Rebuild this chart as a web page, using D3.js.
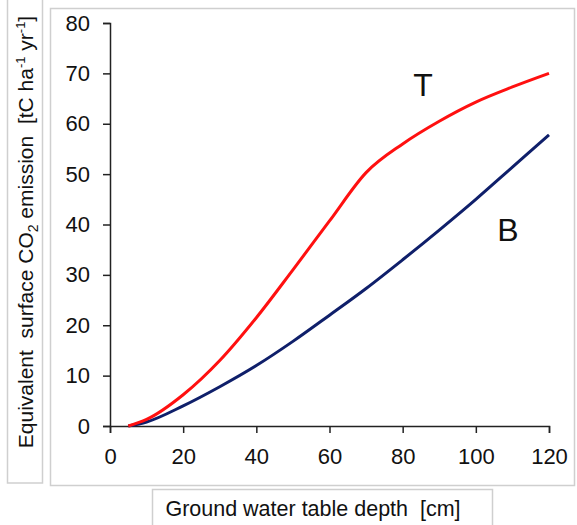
<!DOCTYPE html>
<html>
<head>
<meta charset="utf-8">
<script src="https://cdn.jsdelivr.net/npm/d3@7"></script>
<style>
  html, body { margin: 0; padding: 0; background: #fff; }
  svg { display: block; font-family: "Liberation Sans", Arial, sans-serif; }
</style>
</head>
<body>
<svg id="chart" width="577" height="525"></svg>
<script>
// Ground water table depth [cm]
const depth = [5, 10, 20, 30, 40, 50, 60, 70, 80, 90, 100, 110, 120];
// Equivalent surface CO2 emission [tC ha-1 yr-1]
const seriesT = [0, 1.3, 6.2, 13, 21.5, 31, 40.7, 50.3, 56, 60.5, 64.3, 67.3, 70];
const seriesB = [0, 0.8, 4, 7.8, 12, 16.8, 22, 27.3, 33, 38.9, 45, 51.4, 57.8];
const xTicks = [0, 20, 40, 60, 80, 100, 120];
const yTicks = [0, 10, 20, 30, 40, 50, 60, 70, 80];

const svg = d3.select("#chart");

const x = d3.scaleLinear().domain([0, 120]).range([110, 549]);
const y = d3.scaleLinear().domain([0, 80]).range([426, 23]);

// framed panels
svg.append("rect").attr("x", 50.5).attr("y", 8.5).attr("width", 524).attr("height", 477)
  .attr("fill", "#fff").attr("stroke", "#cfcfcf").attr("stroke-width", 1.5);
svg.append("rect").attr("x", 7.5).attr("y", -5).attr("width", 35).attr("height", 488)
  .attr("fill", "#fff").attr("stroke", "#cfcfcf").attr("stroke-width", 1.5);
svg.append("rect").attr("x", 152.5).attr("y", 489.5).attr("width", 340).attr("height", 45)
  .attr("fill", "#fff").attr("stroke", "#cfcfcf").attr("stroke-width", 1.5);

// axes
const yAxis = svg.append("g").attr("transform", `translate(${x(0)},0)`)
  .call(d3.axisLeft(y).tickValues(yTicks).tickSize(7).tickPadding(13).tickFormat(d3.format("d")));
const xAxis = svg.append("g").attr("transform", `translate(0,${y(0)})`)
  .call(d3.axisBottom(x).tickValues(xTicks).tickSize(7).tickPadding(15).tickFormat(d3.format("d")));

[xAxis, yAxis].forEach(g => {
  g.selectAll("path, line").attr("stroke", "#222").attr("stroke-width", 1.5);
  g.selectAll("text").attr("fill", "#111").style("font-size", "22px")
    .style("font-family", "'Liberation Sans', Arial, sans-serif");
});

// curves
const line = d3.line()
  .x(d => x(d[0]))
  .y(d => y(d[1]))
  .curve(d3.curveMonotoneX);

svg.append("path").datum(depth.map((d, i) => [d, seriesB[i]]))
  .attr("d", line).attr("fill", "none").attr("stroke", "#0f1f6a").attr("stroke-width", 3);
svg.append("path").datum(depth.map((d, i) => [d, seriesT[i]]))
  .attr("d", line).attr("fill", "none").attr("stroke", "#ff1010").attr("stroke-width", 3);

// series labels
svg.append("text").attr("x", 423).attr("y", 96).attr("text-anchor", "middle")
  .style("font-size", "32px").attr("fill", "#111").text("T");
svg.append("text").attr("x", 508).attr("y", 241).attr("text-anchor", "middle")
  .style("font-size", "32px").attr("fill", "#111").text("B");

// axis titles
svg.append("text").attr("x", 313).attr("y", 516).attr("text-anchor", "middle")
  .style("font-size", "21.5px").attr("fill", "#111")
  .attr("xml:space", "preserve")
  .text("Ground water table depth  [cm]");

const yTitle = svg.append("text")
  .attr("transform", "translate(33,232) rotate(-90)")
  .attr("text-anchor", "middle")
  .style("font-size", "21px").attr("fill", "#111")
  .attr("xml:space", "preserve");
yTitle.append("tspan").text("Equivalent  surface CO");
yTitle.append("tspan").attr("dy", 5).style("font-size", "14px").text("2");
yTitle.append("tspan").attr("dy", -5).text(" emission  [tC ha");
yTitle.append("tspan").attr("dy", -8).style("font-size", "13px").text("-1");
yTitle.append("tspan").attr("dy", 8).text(" yr");
yTitle.append("tspan").attr("dy", -8).style("font-size", "13px").text("-1");
yTitle.append("tspan").attr("dy", 8).text("]");
</script>
</body>
</html>
